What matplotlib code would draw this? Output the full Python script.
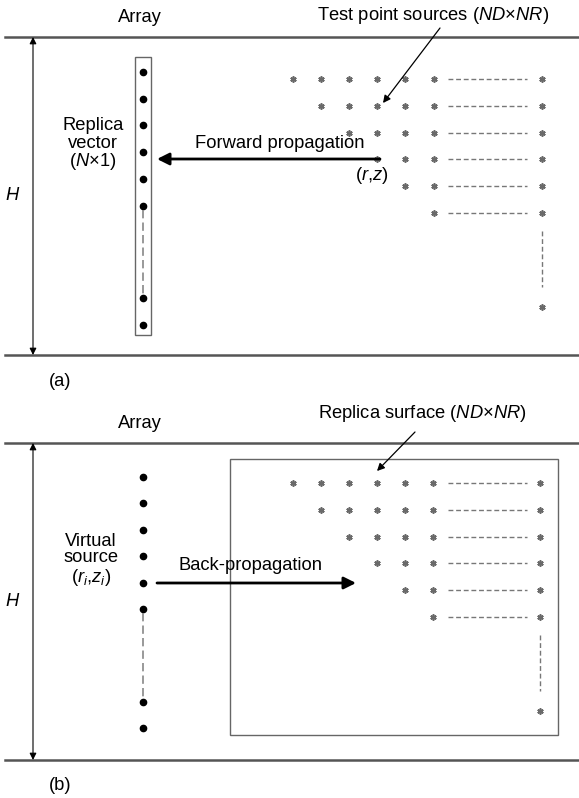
import numpy as np
import matplotlib.pyplot as plt

plt.rcParams['font.family'] = ['Liberation Sans', 'DejaVu Sans']
plt.rcParams['mathtext.fontset'] = 'custom'
plt.rcParams['mathtext.rm'] = 'Liberation Sans'
plt.rcParams['mathtext.it'] = 'Liberation Sans:italic'

# Grid description: rows of test points, each row starts one column later
n_cols = 6
row_start = [0, 1, 2, 3, 4, 5]
n_dots_top = 6      # dots above the dashed gap in the array column
n_dots_bottom = 2   # dots below the gap

# Panel layout (pixel coordinates, y downward)
panels = [
    dict(top=37, bottom=355, label='(a)', label_y=381,
         array_y=18, dot_y0=72, dot_dy=26.7, dot_bot=[298, 325],
         col_x0=293, col_dx=28.1, last_x=542, row_y0=79, row_dy=26.8, last_y=307),
    dict(top=443, bottom=760, label='(b)', label_y=785,
         array_y=424, dot_y0=477, dot_dy=26.4, dot_bot=[702, 728],
         col_x0=293, col_dx=28.0, last_x=540, row_y0=483, row_dy=26.8, last_y=711),
]

W, H = 579, 798
fig = plt.figure(figsize=(W / 100, H / 100), dpi=100)
ax = fig.add_axes([0, 0, 1, 1])
ax.set_xlim(0, W)
ax.set_ylim(H, 0)
ax.axis('off')

line_c = '#555555'
star_c = '#6a6a6a'
fs = 13.2

for p in panels:
    # surface and bottom
    ax.plot([5, W], [p['top'], p['top']], color=line_c, lw=1.8)
    ax.plot([5, W], [p['bottom'], p['bottom']], color=line_c, lw=1.8)
    ax.text(140, p['array_y'], 'Array', ha='center', va='center', fontsize=fs)
    # depth arrow H
    ax.annotate('', xy=(33, p['top']), xytext=(33, p['bottom']),
                arrowprops=dict(arrowstyle='<|-|>', color='black', lw=0.8,
                                mutation_scale=10, shrinkA=0, shrinkB=0))
    ax.text(12, (p['top'] + p['bottom']) / 2, 'H', ha='center', va='center',
            fontsize=fs, style='italic')
    ax.text(60, p['label_y'], p['label'], ha='center', va='center', fontsize=fs)

    # array elements
    ys = [p['dot_y0'] + i * p['dot_dy'] for i in range(n_dots_top)]
    ys += p['dot_bot']
    ax.plot([143] * len(ys), ys, 'o', color='black', ms=4.5, ls='none')
    ax.plot([143, 143], [ys[n_dots_top - 1] + 4, p['dot_bot'][0] - 4],
            color='#888888', lw=1.2, ls=(0, (5, 2.5)))

    # grid of points
    for r, s in enumerate(row_start):
        y = p['row_y0'] + r * p['row_dy']
        xs = [p['col_x0'] + c * p['col_dx'] for c in range(s, n_cols)]
        xs.append(p['last_x'])
        ax.plot(xs, [y] * len(xs), ls='none', marker=(6, 2, 0), color=star_c,
                ms=4.5, mew=1.2)
        ax.plot([448, 527], [y, y], color='#777777', lw=1, ls=(0, (3.5, 2)))
    yv0 = p['row_y0'] + (len(row_start) - 1) * p['row_dy'] + 18
    ax.plot([p['last_x'], p['last_x']], [yv0, p['last_y'] - 20],
            color='#777777', lw=1, ls=(0, (3.5, 2)))
    ax.plot([p['last_x']], [p['last_y']], ls='none', marker=(6, 2, 0),
            color=star_c, ms=4.5, mew=1.2)

# panel (a) specifics
ax.add_patch(plt.Rectangle((135, 57), 16, 278, fill=False, ec='#666666', lw=1))
ax.text(93, 145, 'Replica\nvector\n($N$×1)', ha='center', va='center',
        fontsize=fs, linespacing=1.0)
ax.annotate('', xy=(157, 159), xytext=(380, 159),
            arrowprops=dict(arrowstyle='-|>', color='black', lw=2,
                            mutation_scale=18, shrinkA=0, shrinkB=0))
ax.text(280, 143, 'Forward propagation', ha='center', va='center', fontsize=fs)
ax.text(372, 175, '($r$,$z$)', ha='center', va='center', fontsize=fs)
ax.text(433, 15, 'Test point sources ($ND$×$NR$)', ha='center', va='center',
        fontsize=fs)
ax.annotate('', xy=(383, 103), xytext=(440, 28),
            arrowprops=dict(arrowstyle='-|>', color='black', lw=0.9,
                            mutation_scale=11, shrinkA=0, shrinkB=0))

# panel (b) specifics
ax.add_patch(plt.Rectangle((230, 459), 328, 276, fill=False, ec='#666666', lw=1))
ax.text(91, 560, 'Virtual\nsource\n($r_i$,$z_i$)', ha='center', va='center',
        fontsize=fs, linespacing=1.0)
ax.annotate('', xy=(356, 583), xytext=(157, 583),
            arrowprops=dict(arrowstyle='-|>', color='black', lw=2,
                            mutation_scale=18, shrinkA=0, shrinkB=0))
ax.text(250, 565, 'Back-propagation', ha='center', va='center', fontsize=fs)
ax.text(422, 413, 'Replica surface ($ND$×$NR$)', ha='center', va='center',
        fontsize=fs)
ax.annotate('', xy=(377, 471), xytext=(415, 432),
            arrowprops=dict(arrowstyle='-|>', color='black', lw=0.9,
                            mutation_scale=11, shrinkA=0, shrinkB=0))

fig.savefig('out.png', dpi=100)
